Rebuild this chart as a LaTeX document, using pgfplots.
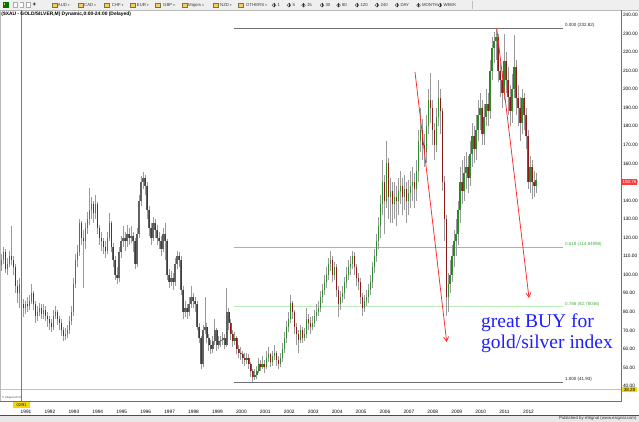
\documentclass[border=0pt]{standalone}
\usepackage{pgfplots}
\pgfplotsset{compat=1.18}
\usepackage{pgfplotstable}
\usepackage{fontspec}
\setmainfont{Liberation Sans}
\newfontfamily\serifblue{Liberation Serif}
\newfontfamily\dejavu{DejaVu Sans}
\usetikzlibrary{arrows.meta}
\definecolor{wickc}{HTML}{9A9A9A}
\definecolor{bodyc}{HTML}{5E5E5E}
\definecolor{upc}{HTML}{2E8B2E}
\definecolor{dnc}{HTML}{8B1A1A}
\definecolor{fibg}{HTML}{7FD07F}
\definecolor{fibg2}{HTML}{B8EAB8}
\definecolor{fibt}{HTML}{40B040}
\definecolor{arrowred}{HTML}{FF2828}
\definecolor{txtblue}{HTML}{1E1EFF}
\definecolor{tbbg}{HTML}{EFEFEF}
\definecolor{folder}{HTML}{F2D060}
\definecolor{curs}{HTML}{E05050}
\definecolor{pinkl}{HTML}{FFA8A8}
\definecolor{ylab}{HTML}{F5D800}
\definecolor{redlab}{HTML}{FF3A3A}
\definecolor{framec}{HTML}{707070}

\pgfplotstableread{
i o h l c
-9 105 111 102 108
-8 108 115 106 112
-7 112 114 101 103
-6 103 109 100 106
-5 106 113 104 110
-4 110 126 105 108
-3 108 110 100 104
-2 104 106 90 94
-1 94 97 85 90
0 90 98 82 95
1 95 96 80 84
2 84 87 77 82
3 82 86 79 84
4 84 88 80 83
5 83 89 81 86
6 86 95 84 90
7 90 91 81 84
8 84 86 74 78
9 78 83 75 80
10 80 85 78 82
11 82 84 76 79
12 79 84 76 81
13 81 83 75 78
14 78 80 72 76
15 76 78 70 74
16 74 76 69 72
17 72 81 70 78
18 78 83 76 80
19 80 81 73 76
20 76 78 70 74
21 74 76 67 70
22 70 72 64 67
23 67 71 65 68
24 68 73 66 70
25 70 78 68 75
26 75 83 73 80
27 80 98 78 95
28 95 111 93 108
29 108 116 104 112
30 112 130 110 128
31 128 129 116 120
32 120 124 93 118
33 118 128 114 125
34 125 134 122 130
35 130 147 127 135
36 135 142 130 138
37 138 140 128 133
38 133 143 130 138
39 138 139 122 125
40 125 127 116 120
41 120 123 113 118
42 118 120 111 115
43 115 118 109 113
44 113 123 111 120
45 120 133 118 128
46 128 129 112 115
47 115 117 104 108
48 108 110 97 100
49 100 104 95 98
50 98 115 96 112
51 112 121 109 118
52 118 126 115 120
53 120 123 113 118
54 118 127 115 122
55 122 125 116 120
56 120 126 117 121
57 121 123 112 118
58 118 120 103 106
59 106 125 104 122
60 122 143 120 140
61 140 153 137 150
62 150 155.5 146 152
63 152 154 143 148
64 148 150 130 135
65 135 137 121 125
66 125 128 116 120
67 120 131 118 128
68 128 130 120 124
69 124 127 116 120
70 120 123 114 118
71 118 121 110 114
72 114 125 112 122
73 122 128 108 118
74 118 119 97 100
75 100 103 93 96
76 96 102 94 98
77 98 101 92 96
78 96 109 94 106
79 106 113 103 110
80 110 112 104 108
81 108 110 89 92
82 92 94 76 80
83 80 86 77 82
84 82 84 76 80
85 80 88 78 84
86 84 94 82 88
87 88 90 82 86
88 86 88 80 84
89 84 86 70 72
90 72 74 63 66
91 66 67 49 52
92 52 73 50 70
93 70 88 68 72
94 72 74 63 66
95 66 68 59 62
96 62 65 57 60
97 60 67 58 64
98 64 76 62 70
99 70 71 59 62
100 62 67 60 64
101 64 67 61 65
102 65 69 62 66
103 66 68 60 62
104 62 93 61 80
105 80 82 70 74
106 74 76 65 68
107 68 70 61 64
108 64 69 62 66
109 66 67 57 60
110 60 62 55 58
111 58 61 54 57
112 57 59 52 55
113 55 58 51 54
114 54 58 52 55
115 55 57 49 52
116 52 53 45 48
117 48 49 41.93 45
118 45 49 43 46
119 46 51 44 48
120 48 55 47 52
121 52 54 48 50
122 50 56 49 52
123 52 54 47 50
124 50 59 49 55
125 55 61 53 57
126 57 58 50 53
127 53 59 51 56
128 56 62 54 58
129 58 59 51 54
130 54 56 49 52
131 52 58 50 55
132 55 63 53 60
133 60 69 58 66
134 66 75 63 72
135 72 80 69 76
136 76 89 74 85
137 85 86 76 80
138 80 81 68 72
139 72 74 62 68
140 68 70 58 65
141 65 73 63 70
142 70 72 63 66
143 66 71 64 68
144 68 82 66 76
145 76 79 70 74
146 74 77 68 72
147 72 78 70 74
148 74 81 72 78
149 78 84 75 80
150 80 86 78 82
151 82 91 80 88
152 88 95 85 92
153 92 100 89 96
154 96 104 93 100
155 100 109 97 106
156 106 113 102 108
157 108 110 96 100
158 100 107 97 104
159 104 106 88 92
160 92 94 77 84
161 84 91 81 88
162 88 94 85 90
163 90 99 87 96
164 96 104 93 100
165 100 108 97 104
166 104 110 100 106
167 106 113 103 110
168 110 112 100 104
169 104 106 94 98
170 98 101 92 96
171 96 98 84 88
172 88 90 78 82
173 82 89 80 86
174 86 92 83 88
175 88 95 85 92
176 92 100 89 96
177 96 107 93 104
178 104 114 101 110
179 110 122 107 118
180 118 131 114 126
181 126 143 120 138
182 138 162 132 150
183 150 154 122 140
184 140 172 136 160
185 160 163 130 142
186 142 152 128 145
187 145 150 128 138
188 138 150 130 142
189 142 148 126 140
190 140 152 132 145
191 145 156 138 148
192 148 152 132 142
193 142 154 135 146
194 146 150 128 140
195 140 151 132 144
196 144 156 136 148
197 148 158 140 150
198 150 155 136 146
199 146 162 140 156
200 156 178 150 172
201 172 190 166 178
202 178 184 162 170
203 170 176 158 166
204 166 186 160 180
205 180 200 176 194
206 194 209 182 190
207 190 194 170 178
208 178 182 162 170
209 170 190 166 185
210 185 205 180 195
211 195 200 176 188
212 188 190 145 150
213 150 153 118 130
214 130 132 78 88
215 88 101 80 95
216 95 108 90 100
217 100 116 96 110
218 110 124 104 118
219 118 130 110 122
220 122 140 116 135
221 135 158 128 150
222 150 162 138 145
223 145 164 140 155
224 155 166 146 158
225 158 164 144 152
226 152 172 148 165
227 165 182 158 175
228 175 180 160 168
229 168 186 162 178
230 178 194 172 186
231 186 198 178 190
232 190 194 170 176
233 176 192 170 185
234 185 200 180 192
235 192 198 180 188
236 188 216 184 210
237 210 228 205 222
238 222 231 214 226
239 226 232.82 216 228
240 228 230 204 210
241 210 214 196 205
242 205 210 190 198
243 198 230 194 215
244 215 220 198 205
245 205 212 186 196
246 196 202 180 188
247 188 208 182 200
248 200 229 195 212
249 212 216 186 195
250 195 202 180 190
251 190 196 172 182
252 182 200 176 195
253 195 198 178 186
254 186 190 168 175
255 175 178 146 150
256 150 164 144 158
257 158 162 141 150
258 150 156 142 148
259 148 155 144 151
}\data

\begin{document}
\begin{tikzpicture}[x=1pt,y=-1pt]
\fill[white] (0,0) rectangle (639,422);
% toolbar
\fill[tbbg] (0,0) rectangle (639,10);
\draw[gray!55, line width=0.4pt] (0,10) -- (639,10);
\fill[green!45!black] (3,2.2) rectangle (8.5,7.8);
\fill[yellow!70!orange] (3.6,2.8) rectangle (5.4,4.6);
\foreach \xx in {13,19.5,26}{\fill[gray!65] (\xx,2.2) rectangle (\xx+4.5,7.8); \fill[white] (\xx+0.8,3.2) rectangle (\xx+3.7,6.8);}
\node[inner sep=0, font=\fontsize{6}{6}\selectfont\bfseries] at (34.5,5) {+};
\foreach \fx/\tx/\lab in {51.7/57.7/AUD,77.7/84/CAD,104/111.7/CHF,130/136.7/EUR,155/163/GBP,181.7/188/Majors,213/220/NZD,238/246/OTHERS}{
  \fill[folder] (\fx,3) rectangle (\fx+5.5,7.6);
  \draw[folder!55!black, line width=0.2pt] (\fx,3) rectangle (\fx+5.5,7.6);
  \node[anchor=west, inner sep=0, font=\fontsize{4.3}{5}\selectfont, text=gray!45!black] at (\tx,5.3) {\lab\ {\dejavu\fontsize{3}{3}\selectfont ▾}};
}
\foreach \cx/\lab in {272/1,287/5,301.5/15,320/30,336.5/60,355/120,375/240,395/DAY,416.5/MONTH,438/WEEK}{
  \draw[gray!40!black, line width=0.3pt] (\cx+2,5.2) circle (1.9);
  \draw[gray!40!black, line width=0.3pt] (\cx+2,3.3) -- (\cx+2,7.1);
  \node[anchor=west, inner sep=0, font=\fontsize{4.3}{5}\selectfont, text=gray!40!black] at (\cx+5.3,5.3) {\lab};
}
\draw[gray!50] (472,1) -- (472,9.5);
% status bar
\fill[gray!18] (0,415) rectangle (639,422);
\draw[gray!60!black, line width=0.5pt] (0,414.8) -- (639,414.8);
\node[anchor=east, inner sep=0, font=\fontsize{4.3}{5}\selectfont, text=black!80] at (636.7,418.7) {Published by eSignal (www.esignal.com)};

\begin{scope}[x=1pt,y=1pt]
\begin{axis}[at={(0pt,-401pt)}, anchor=south west, scale only axis,
  width=621.5pt, height=391pt,
  xmin=-9.78, xmax=301.9, ymin=31.91, ymax=242.70,
  axis line style={draw=none}, major tick length=0pt,
  xtick={0,12,...,252},
  xticklabels={1991,1992,1993,1994,1995,1996,1997,1998,1999,2000,2001,2002,2003,2004,2005,2006,2007,2008,2009,2010,2011,2012},
  xticklabel style={font=\fontsize{4.8}{5}\selectfont, anchor=west, inner sep=0pt, xshift=1pt, yshift=-10.7pt},
  ytick={40,50,...,240},
  yticklabels={40.00,50.00,60.00,70.00,80.00,90.00,100.00,110.00,120.00,130.00,140.00,150.00,160.00,170.00,180.00,190.00,200.00,210.00,220.00,230.00,240.00},
  ytick pos=right, yticklabel pos=right,
  yticklabel style={font=\fontsize{4.8}{5}\selectfont, anchor=west, inner sep=0pt, xshift=1.3pt},
  clip=true]
% pink price line
\addplot[pinkl, line width=1.4pt, forget plot] coordinates {(-10,38.1) (302,38.1)};
% fib lines
\addplot[draw=framec, line width=0.6pt, forget plot] coordinates {(107.5,232.82) (272.6,232.82)};
\addplot[draw=fibg, line width=0.7pt, forget plot] coordinates {(107.5,114.84998) (272.6,114.84998)};
\addplot[draw=fibg2, line width=1.5pt, forget plot] coordinates {(107.5,82.78046) (272.6,82.78046)};
\addplot[draw=framec, line width=0.7pt, forget plot] coordinates {(107.5,41.93) (272.6,41.93)};
% wicks
\addplot[draw=none, mark=none, forget plot,
  error bars/.cd, y dir=plus, y explicit, error mark=none,
  error bar style={draw=wickc, line width=0.9pt}]
  table[x=i, y=l, y error expr=\thisrow{h}-\thisrow{l}] {\data};
% body outline
\addplot[draw=none, mark=none, forget plot,
  error bars/.cd, y dir=plus, y explicit, error mark=none,
  error bar style={draw=bodyc, line width=1.45pt}]
  table[x=i, y expr={min(\thisrow{o},\thisrow{c})}, y error expr={abs(\thisrow{c}-\thisrow{o})}] {\data};
% up bodies
\addplot[draw=none, mark=none, forget plot,
  restrict expr to domain={\thisrow{c}-\thisrow{o}}{0:1000},
  error bars/.cd, y dir=plus, y explicit, error mark=none,
  error bar style={draw=upc, line width=0.75pt}]
  table[x=i, y=o, y error expr=\thisrow{c}-\thisrow{o}] {\data};
% down bodies
\addplot[draw=none, mark=none, forget plot,
  restrict expr to domain={\thisrow{o}-\thisrow{c}}{0.001:1000},
  error bars/.cd, y dir=plus, y explicit, error mark=none,
  error bar style={draw=dnc, line width=0.75pt}]
  table[x=i, y=c, y error expr=\thisrow{o}-\thisrow{c}] {\data};
% fib labels
\node[anchor=south west, inner sep=0.4pt, font=\fontsize{4.5}{5}\selectfont, text=black!85] at (axis cs:273.3,232.82) {0.000 (232.82)};
\node[anchor=south west, inner sep=0.4pt, font=\fontsize{4.5}{5}\selectfont, text=fibt] at (axis cs:273.3,114.84998) {0.618 (114.84998)};
\node[anchor=south west, inner sep=0.4pt, font=\fontsize{4.5}{5}\selectfont, text=fibt] at (axis cs:273.3,82.78046) {0.786 (82.78046)};
\node[anchor=south west, inner sep=0.4pt, font=\fontsize{4.5}{5}\selectfont, text=black!85] at (axis cs:273.3,41.93) {1.000 (41.93)};
\end{axis}
\end{scope}

% frame
\draw[framec, line width=0.6pt] (0,401) -- (621.5,401) -- (621.5,10);
\draw[gray!55, line width=0.6pt] (0.4,10) -- (0.4,401);
% cursor line
\draw[curs, line width=0.7pt] (21,10) -- (21,401);
\fill[ylab] (13.3,401.7) rectangle (30,408.3);
\node[inner sep=0, font=\fontsize{4}{4}\selectfont, text=blue!50!black] at (21.6,405) {02/91};
\node[anchor=west, inner sep=0, font=\fontsize{2.8}{3}\selectfont, text=black!70] at (2,397.8) {© eSignal 2011};
% price labels
\fill[redlab] (622,179) rectangle (636.8,185.2);
\node[inner sep=0, font=\fontsize{4.5}{5}\selectfont, text=white] at (629.4,182.1) {150.76};
\fill[ylab] (622,387.2) rectangle (637,392.2);
\node[inner sep=0, font=\fontsize{4.5}{5}\selectfont, text=black] at (629.5,389.7) {38.28};
% header
\node[anchor=west, inner sep=0, font=\fontsize{4.9}{5}\selectfont\bfseries] at (1.2,14.4) {(\$XAU - GOLD/SILVER,M) Dynamic,0:00-24:00 (Delayed)};
% arrows
\draw[arrowred, line width=0.75pt, -{Straight Barb[length=4.5pt,width=5pt]}] (415,72) -- (446.7,342);
\draw[arrowred, line width=0.75pt, -{Straight Barb[length=4.5pt,width=5pt]}] (496.7,28) -- (529,298);
% text
\node[anchor=base west, inner sep=0, text=txtblue, font=\serifblue\fontsize{19.5}{21}\selectfont] at (481,327) {great BUY for};
\node[anchor=base west, inner sep=0, text=txtblue, font=\serifblue\fontsize{19.5}{21}\selectfont] at (481,348.4) {gold/silver index};
\pgfresetboundingbox
\path[use as bounding box] (0,0) rectangle (639,422);
\end{tikzpicture}
\end{document}
